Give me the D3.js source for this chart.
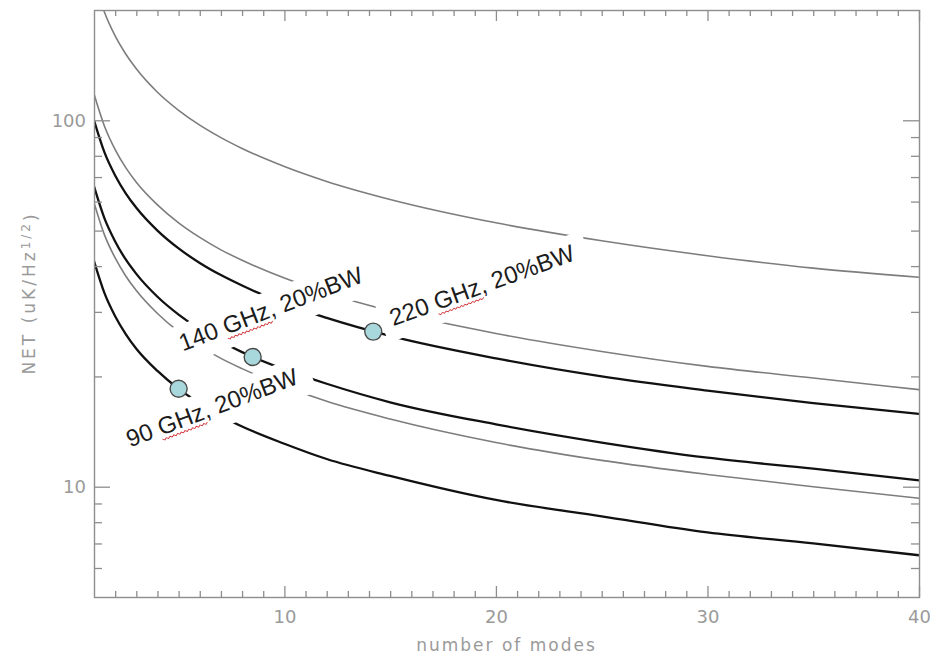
<!DOCTYPE html>
<html>
<head>
<meta charset="utf-8">
<script src="https://cdn.jsdelivr.net/npm/d3@7"></script>
<style>
  body { margin: 0; background: #ffffff; }
  svg { display: block; }
</style>
</head>
<body>
<svg id="chart" width="930" height="657"></svg>
<script>
// Number of modes sampled along each curve
const modes = [1, 1.5, 2, 2.5, 3, 4, 5, 6, 7, 8, 10, 12, 15, 20, 25, 30, 35, 40];

// NET (uK/Hz^1/2) for the thin grey curves
const greyUpper  = [242, 196.8, 169.9, 151.7, 138.2, 119.3, 106.5, 97.0, 89.7, 83.8, 74.8, 68.1, 60.8, 52.5, 46.9, 42.7, 39.5, 37.3];
const greyMiddle = [118, 96.2, 83.2, 74.3, 67.8, 58.8, 52.5, 47.9, 44.3, 41.5, 37.1, 33.8, 30.2, 26.2, 23.4, 21.3, 19.8, 18.4];
const greyLower  = [59.6, 48.6, 42.1, 37.6, 34.3, 29.7, 26.5, 24.2, 22.4, 21.0, 18.8, 17.1, 15.3, 13.2, 11.8, 10.8, 10.0, 9.3];

// NET for the thick black curves, one per band
const net220 = [100, 81.6, 70.7, 63.2, 57.7, 50.0, 44.7, 40.8, 37.8, 35.4, 31.6, 28.9, 25.8, 22.4, 20.0, 18.3, 16.9, 15.8];
const net140 = [66, 53.9, 46.7, 41.7, 38.1, 33.0, 29.5, 26.9, 24.9, 23.3, 20.9, 19.1, 17.0, 14.8, 13.2, 12.0, 11.2, 10.4];
const net90  = [41.3, 33.7, 29.2, 26.1, 23.8, 20.7, 18.5, 16.9, 15.6, 14.6, 13.1, 11.9, 10.7, 9.2, 8.3, 7.5, 7.0, 6.5];

// Marked operating points and their band names
const bandLabels = ["90 GHz, 20%BW", "140 GHz, 20%BW", "220 GHz, 20%BW"];
const pointModes = [5, 8.5, 14.2];
const pointNET = [18.5, 22.6, 26.5];

// Axis ticks
const xTickValues = [10, 20, 30, 40];
const yTickValues = [10, 100];
const yMinorValues = [6, 7, 8, 9, 20, 30, 40, 50, 60, 70, 80, 90];

// ---- layout ----
const plot = { left: 94, right: 919, top: 10, bottom: 597 };
const axisColor = "#8e8e8e";
const tickFont = "'DejaVu Sans', 'Liberation Sans', sans-serif";

const svg = d3.select("#chart");

const x = d3.scaleLinear().domain([1, 40]).range([plot.left, plot.right]);
const y = d3.scaleLog().domain([5, 200]).range([plot.bottom, plot.top]);

svg.append("defs").append("clipPath").attr("id", "plot-clip")
  .append("rect")
  .attr("x", plot.left).attr("y", plot.top)
  .attr("width", plot.right - plot.left).attr("height", plot.bottom - plot.top);

// ---- curves ----
const curves = [
  { values: greyUpper,  color: "#7d7d7d", width: 1.6 },
  { values: greyMiddle, color: "#7d7d7d", width: 1.6 },
  { values: greyLower,  color: "#7d7d7d", width: 1.6 },
  { values: net220,     color: "#111111", width: 2.3 },
  { values: net140,     color: "#111111", width: 2.3 },
  { values: net90,      color: "#111111", width: 2.3 }
];

const line = d3.line()
  .x((d, i) => x(modes[i]))
  .y(d => y(d))
  .curve(d3.curveMonotoneX);

svg.append("g").attr("clip-path", "url(#plot-clip)")
  .selectAll("path")
  .data(curves)
  .join("path")
  .attr("d", c => line(c.values))
  .attr("fill", "none")
  .attr("stroke", c => c.color)
  .attr("stroke-width", c => c.width)
  .attr("stroke-linejoin", "round");

// ---- axes (ticks point inward on all four sides) ----
function tidy(g, withText) {
  g.select(".domain").remove();
  g.selectAll(".tick line").attr("stroke", axisColor).attr("stroke-width", 1.3);
  if (withText) {
    g.selectAll(".tick text")
      .attr("fill", "#9a9a9a")
      .style("font-family", tickFont)
      .style("font-size", "18px");
  } else {
    g.selectAll(".tick text").remove();
  }
}

const xMinor = d3.range(2, 40).filter(d => d % 10 !== 0);

svg.append("g").attr("transform", `translate(0,${plot.bottom})`)
  .call(d3.axisBottom(x).tickValues(xMinor).tickSizeInner(-6).tickSizeOuter(0).tickFormat(""))
  .call(g => tidy(g, false));
svg.append("g").attr("transform", `translate(0,${plot.bottom})`)
  .call(d3.axisBottom(x).tickValues(xTickValues).tickSizeInner(-11).tickSizeOuter(0).tickPadding(13).tickFormat(d3.format("d")))
  .call(g => tidy(g, true));

svg.append("g").attr("transform", `translate(0,${plot.top})`)
  .call(d3.axisTop(x).tickValues(xMinor).tickSizeInner(-6).tickSizeOuter(0).tickFormat(""))
  .call(g => tidy(g, false));
svg.append("g").attr("transform", `translate(0,${plot.top})`)
  .call(d3.axisTop(x).tickValues(xTickValues).tickSizeInner(-11).tickSizeOuter(0).tickFormat(""))
  .call(g => tidy(g, false));

svg.append("g").attr("transform", `translate(${plot.left},0)`)
  .call(d3.axisLeft(y).tickValues(yMinorValues).tickSizeInner(-8).tickSizeOuter(0).tickFormat(""))
  .call(g => tidy(g, false));
svg.append("g").attr("transform", `translate(${plot.left},0)`)
  .call(d3.axisLeft(y).tickValues(yTickValues).tickSizeInner(-16).tickSizeOuter(0).tickPadding(8).tickFormat(d3.format("d")))
  .call(g => tidy(g, true));

svg.append("g").attr("transform", `translate(${plot.right},0)`)
  .call(d3.axisRight(y).tickValues(yMinorValues).tickSizeInner(-8).tickSizeOuter(0).tickFormat(""))
  .call(g => tidy(g, false));
svg.append("g").attr("transform", `translate(${plot.right},0)`)
  .call(d3.axisRight(y).tickValues(yTickValues).tickSizeInner(-16).tickSizeOuter(0).tickFormat(""))
  .call(g => tidy(g, false));

// plot frame
svg.append("rect")
  .attr("x", plot.left + 0.5).attr("y", plot.top + 0.5)
  .attr("width", plot.right - plot.left).attr("height", plot.bottom - plot.top)
  .attr("fill", "none").attr("stroke", axisColor).attr("stroke-width", 1.4);

// axis titles
svg.append("text")
  .attr("x", (plot.left + plot.right) / 2)
  .attr("y", 651)
  .attr("text-anchor", "middle")
  .attr("fill", "#9a9a9a")
  .style("font-family", tickFont)
  .style("font-size", "17px")
  .style("letter-spacing", "2px")
  .text("number of modes");

const yTitle = svg.append("text")
  .attr("transform", "translate(35,293) rotate(-90)")
  .attr("text-anchor", "middle")
  .attr("fill", "#9a9a9a")
  .style("font-family", tickFont)
  .style("font-size", "17px")
  .style("letter-spacing", "3px");
yTitle.append("tspan").text("NET (uK/Hz");
yTitle.append("tspan").attr("dy", "-0.45em").style("font-size", "12px").text("1/2");
yTitle.append("tspan").attr("dy", "0.45em").text(")");

// ---- band annotations: rotated text on a white box, placed beside each point ----
const labelLayout = [
  { n: 2.7,  v: 12.8, angle: -20.7 },
  { n: 5.2,  v: 23.4, angle: -21 },
  { n: 15.15, v: 27.4, angle: -20 }
];

bandLabels.forEach((label, i) => {
  const L = labelLayout[i];
  const g = svg.append("g")
    .attr("transform", `translate(${x(L.n)},${y(L.v)}) rotate(${L.angle})`);
  const box = g.append("rect").attr("fill", "#ffffff");
  const t = g.append("text")
    .attr("x", 0).attr("y", 0)
    .attr("fill", "#1c1c1c")
    .style("font-family", "'Liberation Sans', Arial, sans-serif")
    .style("font-size", "24px")
    .text(label);
  const len = t.node().getComputedTextLength();
  box.attr("x", -10).attr("y", -26).attr("width", len + 24).attr("height", 40);

  // spell-check style wavy underline under "GHz"
  const k = label.indexOf("GHz");
  const u0 = t.node().getSubStringLength(0, k);
  const uw = t.node().getSubStringLength(k, 3);
  const pts = [];
  for (let u = 0, j = 0; u <= uw; u += 2, j++) pts.push([u0 + u, 4 + (j % 2 ? 1.3 : -0.3)]);
  g.append("path")
    .attr("d", d3.line()(pts))
    .attr("fill", "none")
    .attr("stroke", "#d0343a")
    .attr("stroke-width", 0.9);
});

// ---- operating points ----
svg.append("g")
  .selectAll("circle")
  .data(pointModes)
  .join("circle")
  .attr("cx", d => x(d))
  .attr("cy", (d, i) => y(pointNET[i]))
  .attr("r", 8.5)
  .attr("fill", "#a9d8dc")
  .attr("stroke", "#4a4a4a")
  .attr("stroke-width", 1.4);
</script>
</body>
</html>
